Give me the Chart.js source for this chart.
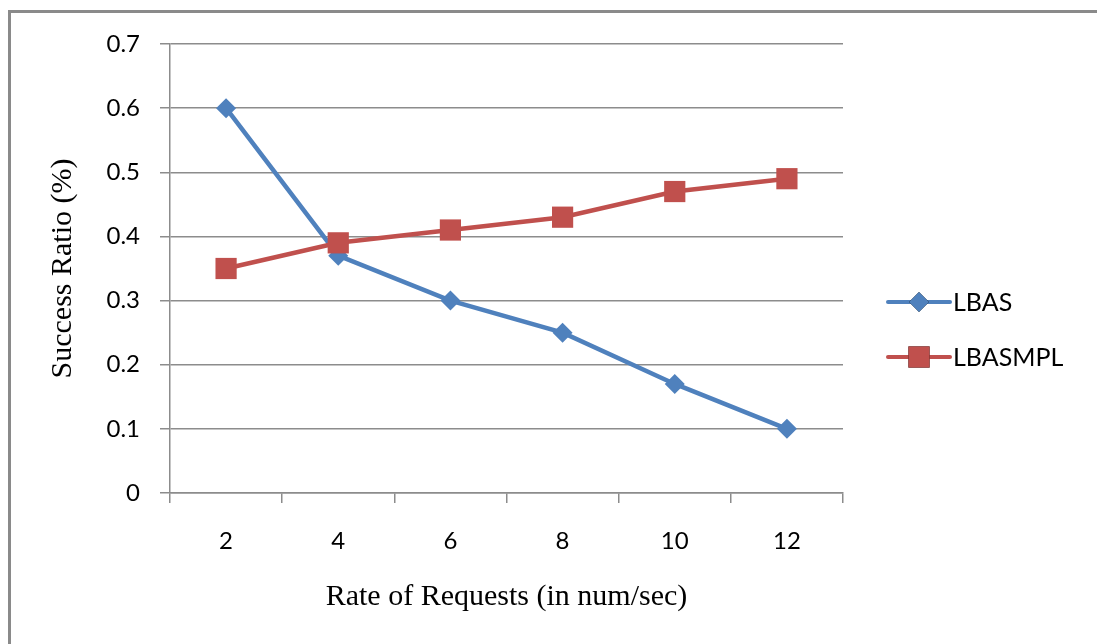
<!DOCTYPE html>
<html>
<head>
<meta charset="utf-8">
<script src="https://cdn.jsdelivr.net/npm/chart.js@4/dist/chart.umd.min.js"></script>
<style>
  html, body { margin: 0; padding: 0; background: #fff; }
  #wrap { position: relative; width: 1097px; height: 644px; }
</style>
</head>
<body>
<div id="wrap"><canvas id="chart"></canvas></div>
<script>
var categories = ['2', '4', '6', '8', '10', '12'];
var lbas = [0.6, 0.37, 0.3, 0.25, 0.17, 0.1];
var lbasmpl = [0.35, 0.39, 0.41, 0.43, 0.47, 0.49];
var yTickLabels = ['0', '0.1', '0.2', '0.3', '0.4', '0.5', '0.6', '0.7'];

var BLUE = '#4F81BD';
var RED = '#C0504D';
var GRID = '#8c8c8c';

// frame + legend drawn beside the plot, like the Excel original
var decorPlugin = {
  id: 'decor',
  beforeDraw: function(chart) {
    var ctx = chart.ctx;
    ctx.save();
    ctx.strokeStyle = '#8a8a8a';
    ctx.lineWidth = 3;
    ctx.beginPath();
    ctx.moveTo(9.5, 644);
    ctx.lineTo(9.5, 11.5);
    ctx.lineTo(1097, 11.5);
    ctx.stroke();
    ctx.restore();
  },
  afterDraw: function(chart) {
    var ctx = chart.ctx;
    var area = chart.chartArea;
    var x0 = area.right + 45;
    var y0 = 302;
    ctx.save();
    chart.data.datasets.forEach(function(ds, i) {
      var y = y0 + i * 55;
      ctx.strokeStyle = ds.borderColor;
      ctx.lineWidth = 4;
      ctx.lineCap = 'round';
      ctx.beginPath();
      ctx.moveTo(x0, y);
      ctx.lineTo(x0 + 62, y);
      ctx.stroke();
      Chart.helpers.drawPoint(ctx, {
        pointStyle: ds.pointStyle,
        radius: ds.pointRadius,
        borderWidth: 0
      }, x0 + 31, y);
      ctx.fillStyle = ds.backgroundColor;
      ctx.fill();
      ctx.fillStyle = '#000';
      ctx.font = '25px Lato';
      ctx.textBaseline = 'middle';
      ctx.fillText(ds.label, x0 + 65, y + 1);
    });
    ctx.restore();
  }
};

new Chart(document.getElementById('chart'), {
  type: 'line',
  data: {
    labels: categories,
    datasets: [{
      label: 'LBAS',
      data: lbas,
      borderColor: BLUE,
      backgroundColor: BLUE,
      borderWidth: 4.5,
      pointStyle: 'rectRot',
      pointRadius: 10,
      pointHoverRadius: 10,
      pointBorderWidth: 0,
      order: 1
    }, {
      label: 'LBASMPL',
      data: lbasmpl,
      borderColor: RED,
      backgroundColor: RED,
      borderWidth: 4.5,
      pointStyle: 'rect',
      pointRadius: 15,
      pointHoverRadius: 15,
      pointBorderWidth: 0,
      order: 0
    }]
  },
  options: {
    responsive: true,
    maintainAspectRatio: false,
    animation: false,
    layout: { padding: { top: 44, right: 254, bottom: 0, left: 0 } },
    plugins: {
      legend: { display: false },
      tooltip: { enabled: false }
    },
    scales: {
      x: {
        offset: true,
        grid: {
          offset: true,
          drawOnChartArea: false,
          color: GRID,
          lineWidth: 1.5,
          tickLength: 10
        },
        border: { color: GRID, width: 1.5 },
        ticks: {
          color: '#000',
          padding: 24,
          font: { family: 'Lato', size: 24 }
        },
        title: {
          display: true,
          text: 'Rate of Requests (in num/sec)',
          color: '#000',
          font: { family: 'Liberation Serif', size: 30 },
          padding: { top: 0, bottom: 29 }
        },
        afterFit: function(scale) { scale.height = 151; }
      },
      y: {
        min: 0,
        max: 0.7,
        grid: {
          color: GRID,
          lineWidth: 1.5,
          tickLength: 10
        },
        border: { color: GRID, width: 1.5 },
        ticks: {
          stepSize: 0.1,
          color: '#000',
          padding: 20,
          font: { family: 'Lato', size: 24 },
          callback: function(v, i) { return yTickLabels[i]; }
        },
        title: {
          display: true,
          text: 'Success Ratio (%)',
          color: '#000',
          font: { family: 'Liberation Serif', size: 30 },
          padding: { top: 45, bottom: 0 }
        },
        afterFit: function(scale) { scale.width = 170; }
      }
    }
  },
  plugins: [decorPlugin]
});
</script>
</body>
</html>
